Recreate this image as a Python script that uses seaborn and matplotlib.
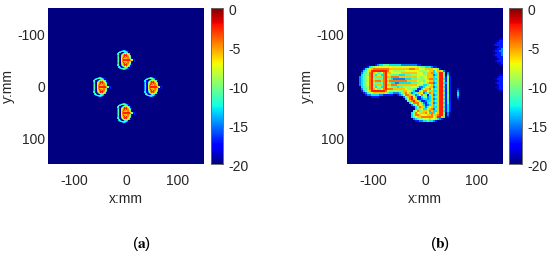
import numpy as np
import pandas as pd
import matplotlib
matplotlib.use("Agg")
import matplotlib.pyplot as plt
from matplotlib.transforms import ScaledTranslation
import seaborn as sns

sns.set_theme(style="white")
plt.rcParams['font.family'] = ['Liberation Sans', 'DejaVu Sans']
plt.rcParams['mathtext.fontset'] = 'stix'

levels_db = {'.': -20, '0': -18.5, '1': -17, '2': -15, '3': -13, '4': -11, '5': -9.3,
             '6': -7.8, '7': -6, '8': -4.3, '9': -2.5}

blob_rows = [
    ".....123321.........",
    "...2344444321.......",
    "..3431.13443........",
    ".341..245676431.....",
    ".341.257989764......",
    ".231.4689998763.....",
    ".24..5789798864.....",
    ".241.5798878875.....",
    ".241.68877788741....",
    ".241.68999999976411.",
    ".241.689999999876.1.",
    ".241.68877788741..1.",
    ".24..57988788751....",
    ".231.4789798864.....",
    ".341.3689998763.....",
    ".341.257989764......",
    "..341.245676431.....",
    "..3431.13443........",
    "...2344444321.......",
    ".....123321.........",
]
blob_origins_px = [(116, 50), (92, 77), (143, 77), (116, 103)]

gun_body_rows = [
    "........12 3344433333 3222222221 1.......",
    "....134566 6666666666 6666666665 54433321",
    "..13567888 8888877777 7777788877 66677776",
    ".134679999 9999866555 5556666666 55556773",
    ".244689764 4689776666 6777777776 66457783",
    ".345589535 5389654444 3334445556 66557772",
    "2345689477 7489778888 7777777776 55667773",
    "2345689544 4489543222 2223334445 55567883",
    "2345689788 8789788888 8888777776 55466773",
    "2345689544 4489543322 3333334445 66567882",
    "2345689477 7489778887 7777777776 55334673",
    ".345589535 5389654443 4455556664 22356772",
    ".244689764 4689888777 7776555441 13677863",
    ".134679999 9998655555 5577664311 46886473",
    "..12456777 7775433222 3578642347 76235873",
    "...1223333 2211111..1 2368874423 68541472",
    "......1111 .......... ..25789631 13552373",
    ".......... .......... ...3689751 12332372",
    ".......... .......... ....478975 31123373",
    ".......... .......... .....36888 64213472",
    ".......... .......... ......2468 65312373",
    ".......... .......... .......135 87424673",
    ".......... .......... ........34 76336782",
    ".......... .......... .......468 45775873",
    ".......... .......... ......3586 57786383",
    ".......... .......... ......3688 76667785",
    ".......... .......... ......3467 78888886",
    ".......... .......... .......234 55666766",
    ".......... .......... ........11 22334332",
]
gun_wall_rows = [
    "........", "1.......", "641.....", "67752...", "47994.2.", "37994.3.",
    "47994151", "37993151", "47994151", "37993251", "47994151", "37993151",
    "47994151", "37993151", "47994141", "37993151", "47994151", "37993141",
    "47994141", "37993141", "47994131", "37993131", "47994131", "37993131",
    "67994.2.", "78994.2.", "79974.1.", "5321....", "1.......",
]
gun_origin_cell = (6, 28)

spot_rows = ["1", "2", "3", "3", "2", "1"]
spot_origin_cell = (55, 40)

ghost_rows = [
    ".....00", "....011", "...0111", "..01111", "....011", "...0112", "..01122",
    "...0112", "..01112", "...0111", "....011", "...0111", "....001", ".....00",
    ".......", ".......", ".......", ".......",
    ".....00", "....011", "...0111", "....011", "...0111", "....011", "...0011",
    "....011", ".....00",
]
ghost_origin_cell = (71, 15)

xy_ticks_mm = [-100, 0, 100]
cbar_ticks = [0, -5, -10, -15, -20]
mm_span = 300.0
grid_a, grid_b = 156, 78


def stamp(grid, rows, col0, row0):
    for r, text in enumerate(rows):
        for c, ch in enumerate(text):
            if ch != '.':
                grid[row0 + r, col0 + c] = levels_db[ch]


field_a = np.full((grid_a, grid_a), -20.0)
for px, py in blob_origins_px:
    stamp(field_a, blob_rows, px - 48, py - 8)

gun_rows = [b.replace(" ", "") + w for b, w in zip(gun_body_rows, gun_wall_rows)]
field_b = np.full((grid_b, grid_b), -20.0)
stamp(field_b, ghost_rows, *ghost_origin_cell)
stamp(field_b, spot_rows, *spot_origin_cell)
stamp(field_b, gun_rows, *gun_origin_cell)

W, H = 550, 254
fig = plt.figure(figsize=(W / 100, H / 100), dpi=100)


def box(x0, y0, x1, y1):
    return [x0 / W, 1 - y1 / H, (x1 - x0) / W, (y1 - y0) / H]


def panel(field, ax_box, cb_box):
    ax = fig.add_axes(box(*ax_box))
    cax = fig.add_axes(box(*cb_box))
    n = field.shape[0]
    sns.heatmap(pd.DataFrame(field), ax=ax, cbar_ax=cax, cmap="jet", vmin=-20, vmax=0,
                xticklabels=False, yticklabels=False, rasterized=True)
    pos = [(v + mm_span / 2) / mm_span * n for v in xy_ticks_mm]
    ax.set_xticks(pos, [str(v) for v in xy_ticks_mm])
    ax.set_yticks(pos, [str(v) for v in xy_ticks_mm], rotation=0)
    ax.tick_params(axis='x', length=0, labelsize=10, colors='#262626', pad=7)
    ax.tick_params(axis='y', length=0, labelsize=10, colors='#262626', pad=2)
    ax.set_xlabel("x:mm", fontsize=10, color='#262626', labelpad=3)
    ax.set_ylabel("y:mm", fontsize=10, color='#262626', labelpad=2)
    cax.set_yticks(cbar_ticks, [str(v) for v in cbar_ticks])
    cax.tick_params(length=2, width=0.5, direction='in', labelsize=10, colors='#262626', pad=4)
    shift = ScaledTranslation(0, -1.5 / 100, fig.dpi_scale_trans)
    for lab in cax.get_yticklabels():
        lab.set_transform(lab.get_transform() + shift)
    for s in cax.spines.values():
        s.set_visible(True)
        s.set_linewidth(0.5)
        s.set_color('#666666')


panel(field_a, (48, 8, 204, 164), (211, 8, 223, 164))
panel(field_b, (347, 8, 503, 164), (509, 8, 522, 164))

fig.text(141 / W, 1 - 244 / H, r"($\mathbf{a}$)", ha='center', va='center', fontsize=11, color='black')
fig.text(440 / W, 1 - 244 / H, r"($\mathbf{b}$)", ha='center', va='center', fontsize=11, color='black')

fig.savefig("out.png", dpi=100)
